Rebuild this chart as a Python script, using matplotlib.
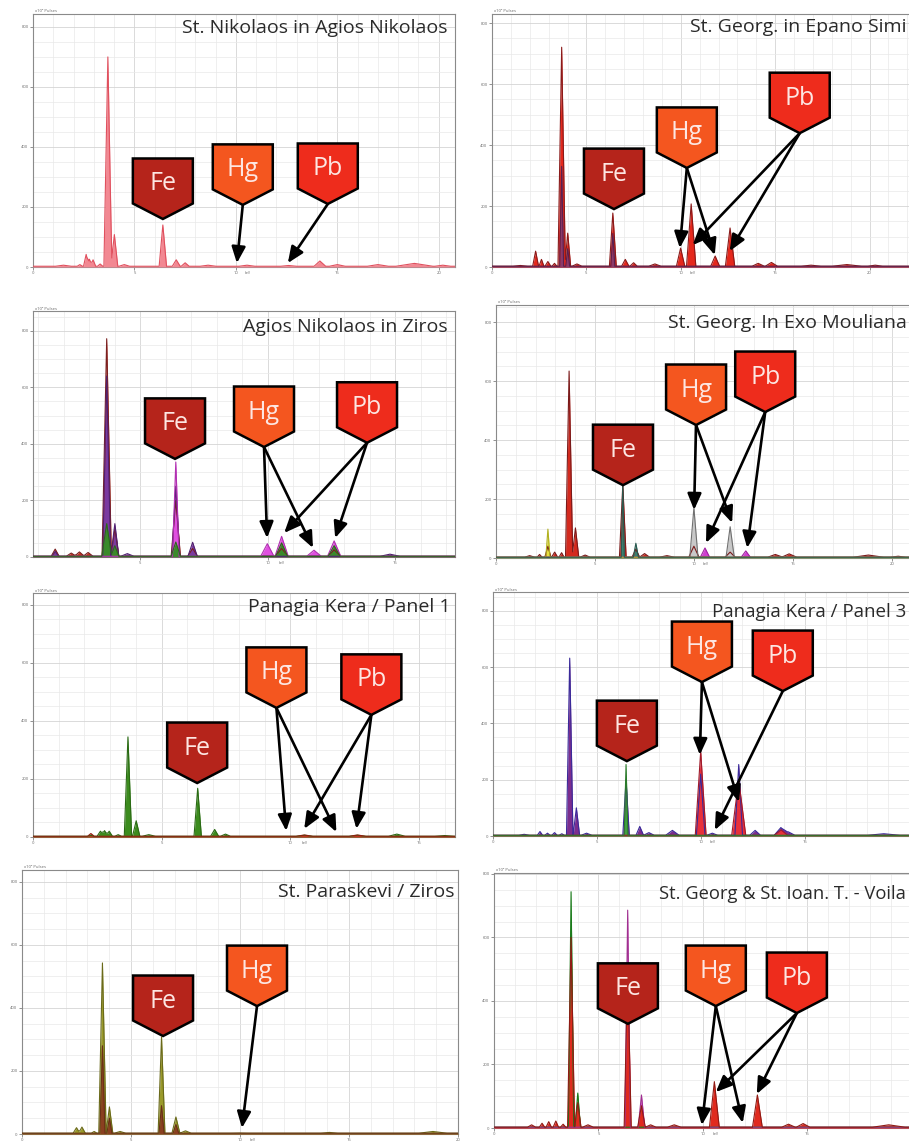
import numpy as np
import matplotlib
matplotlib.use("Agg")
import matplotlib.pyplot as plt
from matplotlib import transforms
from matplotlib.patches import Polygon
from matplotlib.ticker import MultipleLocator

plt.rcParams['font.family'] = ['Open Sans', 'DejaVu Sans']

# ----------------------------- data -----------------------------
titles = ["St. Nikolaos in Agios Nikolaos", "St. Georg. in Epano Simi",
          "Agios Nikolaos in Ziros", "St. Georg. In Exo Mouliana",
          "Panagia Kera / Panel 1", "Panagia Kera / Panel 3",
          "St. Paraskevi / Ziros", "St. Georg & St. Ioan. T. - Voila"]
xlims = [(0, 20.8), (0, 22.3), (0.8, 17.35), (0, 21.0), (0, 16.4), (0, 20.3), (0, 20.0), (0, 20.3)]
ylims = [843, 830, 870, 858, 841, 867, 838, 803]
x_ticks = [0, 5, 10, 15, 20]
y_ticks = [0, 200, 400, 600, 800]

# spectra: peak energy (keV), peak height (pulses), peak half-width (keV)
p1_pink_kev = [1.5, 2.31, 2.62, 2.78, 2.96, 3.31, 3.69, 4.01, 4.5, 6.40, 7.06, 7.5, 8.63, 10.55, 12.6, 14.14, 15.0, 17.0, 18.8, 20.2]
p1_pink_cts = [6, 8, 42, 26, 24, 10, 700, 108, 8, 140, 24, 14, 6, 6, 5, 20, 8, 8, 12, 6]
p1_pink_hw = [0.3, 0.1, 0.1, 0.1, 0.1, 0.1, 0.15, 0.13, 0.2, 0.14, 0.15, 0.15, 0.3, 0.3, 0.3, 0.22, 0.3, 0.4, 0.7, 0.3]

p2_red_kev = [1.5, 2.31, 2.62, 2.96, 3.31, 3.69, 4.01, 4.5, 6.40, 7.06, 7.5, 8.63, 9.99, 10.55, 11.82, 12.61, 14.1, 14.8, 16.9, 18.8, 20.3]
p2_red_cts = [5, 52, 25, 18, 12, 721, 111, 10, 177, 25, 14, 10, 62, 207, 36, 128, 12, 15, 6, 8, 6]
p2_red_hw = [0.3, 0.12, 0.1, 0.12, 0.1, 0.15, 0.12, 0.2, 0.14, 0.15, 0.15, 0.25, 0.17, 0.19, 0.18, 0.19, 0.25, 0.25, 0.4, 0.6, 0.3]
p2_pur_kev = [3.69, 4.01, 6.40]
p2_pur_cts = [330, 60, 110]
p2_pur_hw = [0.08, 0.08, 0.08]

p3_red_kev = [1.67, 2.3, 2.62, 2.96, 3.69, 4.01, 6.40, 7.06, 10.55, 12.61]
p3_red_cts = [28, 14, 18, 16, 772, 100, 200, 30, 30, 25]
p3_red_hw = [0.12, 0.15, 0.15, 0.15, 0.14, 0.12, 0.14, 0.15, 0.2, 0.2]
p3_pur_kev = [1.67, 3.69, 4.01, 4.5, 6.40, 7.06, 14.8]
p3_pur_cts = [20, 640, 118, 12, 250, 52, 10]
p3_pur_hw = [0.1, 0.12, 0.12, 0.2, 0.12, 0.14, 0.3]
p3_mag_kev = [6.40, 9.99, 10.55, 11.82, 12.61]
p3_mag_cts = [336, 47, 73, 24, 57]
p3_mag_hw = [0.1, 0.2, 0.2, 0.22, 0.2]
p3_grn_kev = [3.69, 4.01, 6.40, 10.55, 12.61]
p3_grn_cts = [118, 40, 53, 50, 40]
p3_grn_hw = [0.15, 0.12, 0.14, 0.18, 0.18]

p4_red_kev = [1.7, 2.2, 2.62, 2.96, 3.31, 3.69, 4.01, 4.5, 6.40, 7.06, 7.5, 8.63, 9.99, 11.82, 14.1, 14.8, 18.8, 20.3]
p4_red_cts = [8, 12, 40, 20, 18, 634, 102, 10, 248, 30, 15, 8, 40, 20, 12, 14, 10, 6]
p4_red_hw = [0.2, 0.1, 0.12, 0.12, 0.1, 0.14, 0.13, 0.2, 0.13, 0.15, 0.2, 0.3, 0.2, 0.2, 0.3, 0.3, 0.6, 0.3]
p4_gry_kev = [9.99, 11.82]
p4_gry_cts = [170, 106]
p4_gry_hw = [0.16, 0.16]
p4_mag_kev = [10.55, 12.61]
p4_mag_cts = [34, 24]
p4_mag_hw = [0.18, 0.18]
p4_yel_kev = [2.62]
p4_yel_cts = [98]
p4_yel_hw = [0.08]
p4_teal_kev = [6.40, 7.06]
p4_teal_cts = [250, 50]
p4_teal_hw = [0.06, 0.1]

p5_grn_kev = [2.25, 2.62, 2.78, 2.96, 3.31, 3.69, 4.01, 4.5, 6.40, 7.06, 7.48, 10.55, 12.61, 14.14, 16.0]
p5_grn_cts = [6, 20, 22, 20, 8, 345, 56, 8, 168, 26, 10, 6, 6, 10, 5]
p5_grn_hw = [0.1, 0.1, 0.1, 0.1, 0.1, 0.11, 0.11, 0.2, 0.11, 0.12, 0.15, 0.25, 0.25, 0.25, 0.3]
p5_red_kev = [2.25, 10.55, 12.61]
p5_red_cts = [12, 7, 7]
p5_red_hw = [0.1, 0.25, 0.25]

p6_pur_kev = [1.5, 2.26, 2.62, 2.96, 3.31, 3.69, 4.01, 4.5, 6.40, 7.06, 7.5, 8.63, 9.99, 10.55, 11.82, 12.61, 13.85, 14.2, 18.8]
p6_pur_cts = [6, 16, 10, 12, 8, 632, 100, 10, 200, 34, 12, 20, 220, 10, 254, 20, 30, 15, 8]
p6_pur_hw = [0.2, 0.1, 0.1, 0.1, 0.1, 0.12, 0.12, 0.2, 0.12, 0.14, 0.2, 0.25, 0.16, 0.2, 0.14, 0.2, 0.25, 0.25, 0.6]
p6_red_kev = [9.99, 11.82, 13.85]
p6_red_cts = [300, 200, 22]
p6_red_hw = [0.2, 0.26, 0.25]
p6_grn_kev = [6.40]
p6_grn_cts = [254]
p6_grn_hw = [0.07]

p7_olv_kev = [2.5, 2.75, 3.31, 3.69, 4.01, 4.5, 6.40, 7.06, 7.5, 9.99, 14.1, 18.85]
p7_olv_cts = [20, 22, 8, 543, 86, 8, 308, 54, 10, 3, 5, 8]
p7_olv_hw = [0.12, 0.12, 0.1, 0.13, 0.12, 0.2, 0.12, 0.14, 0.2, 0.3, 0.3, 0.5]
p7_brn_kev = [3.69, 4.01, 6.40, 7.06]
p7_brn_cts = [280, 50, 90, 30]
p7_brn_hw = [0.09, 0.09, 0.09, 0.1]

p8_grn_kev = [3.69, 4.01]
p8_grn_cts = [744, 110]
p8_grn_hw = [0.1, 0.1]
p8_mag_kev = [6.40, 7.06]
p8_mag_cts = [686, 104]
p8_mag_hw = [0.1, 0.12]
p8_red_kev = [1.8, 2.3, 2.62, 2.96, 3.31, 3.69, 4.01, 4.5, 6.40, 7.06, 7.5, 8.63, 10.55, 12.61, 14.1, 14.8, 18.9, 20.3]
p8_red_cts = [10, 15, 20, 22, 12, 600, 80, 10, 500, 70, 10, 10, 146, 104, 12, 14, 10, 6]
p8_red_hw = [0.15, 0.1, 0.1, 0.1, 0.1, 0.13, 0.12, 0.2, 0.13, 0.14, 0.2, 0.25, 0.18, 0.18, 0.25, 0.25, 0.6, 0.3]

# series per panel: (kev, counts, half-width, fill colour, edge colour)
panel_series = [
    [(p1_pink_kev, p1_pink_cts, p1_pink_hw, '#f28892', '#e0505e')],
    [(p2_red_kev, p2_red_cts, p2_red_hw, '#e5281c', '#8a1a1a'),
     (p2_pur_kev, p2_pur_cts, p2_pur_hw, '#8a3a6a', '#5a2050')],
    [(p3_red_kev, p3_red_cts, p3_red_hw, '#c8321e', '#7a2020'),
     (p3_pur_kev, p3_pur_cts, p3_pur_hw, '#7a3aa0', '#502070'),
     (p3_mag_kev, p3_mag_cts, p3_mag_hw, '#e050e0', '#b030b0'),
     (p3_grn_kev, p3_grn_cts, p3_grn_hw, '#3a8a2a', '#2a6a1a')],
    [(p4_red_kev, p4_red_cts, p4_red_hw, '#d42a1e', '#7a1a1a'),
     (p4_gry_kev, p4_gry_cts, p4_gry_hw, '#c8c8c8', '#707070'),
     (p4_mag_kev, p4_mag_cts, p4_mag_hw, '#d040d0', '#a020a0'),
     (p4_yel_kev, p4_yel_cts, p4_yel_hw, '#e6e040', '#b0b020'),
     (p4_teal_kev, p4_teal_cts, p4_teal_hw, '#3a8070', '#2a5a50')],
    [(p5_grn_kev, p5_grn_cts, p5_grn_hw, '#3c8c1e', '#2a6a14'),
     (p5_red_kev, p5_red_cts, p5_red_hw, '#c83020', '#902010')],
    [(p6_pur_kev, p6_pur_cts, p6_pur_hw, '#7b2d8e', '#3a2a9a'),
     (p6_red_kev, p6_red_cts, p6_red_hw, '#e8303a', '#a01a2a'),
     (p6_grn_kev, p6_grn_cts, p6_grn_hw, '#40a040', '#2a7a2a')],
    [(p7_olv_kev, p7_olv_cts, p7_olv_hw, '#9a9a2a', '#6a6a1a'),
     (p7_brn_kev, p7_brn_cts, p7_brn_hw, '#8a4020', '#6a3018')],
    [(p8_grn_kev, p8_grn_cts, p8_grn_hw, '#2a9a2a', '#1a7a1a'),
     (p8_mag_kev, p8_mag_cts, p8_mag_hw, '#d050c0', '#a03090'),
     (p8_red_kev, p8_red_cts, p8_red_hw, '#e02a1e', '#901a14')],
]

# callout badges: element, tip energy (keV), tip height (pulses)
badge_el = [['Fe', 'Hg', 'Pb'], ['Fe', 'Hg', 'Pb'], ['Fe', 'Hg', 'Pb'], ['Fe', 'Hg', 'Pb'],
            ['Fe', 'Hg', 'Pb'], ['Fe', 'Hg', 'Pb'], ['Fe', 'Hg'], ['Fe', 'Hg', 'Pb']]
badge_kev = [[6.40, 10.34, 14.53], [6.46, 10.32, 16.30], [6.37, 9.86, 13.90], [6.41, 10.10, 13.59],
             [6.38, 9.46, 13.15], [6.44, 10.05, 13.94], [6.47, 10.78], [6.41, 10.62, 14.50]]
badge_cts = [[160, 207, 210], [190, 325, 439], [347, 389, 404], [247, 451, 495],
             [186, 445, 421], [266, 547, 515], [311, 406], [328, 384, 362]]
# arrows: element, target energy (keV), target height (pulses)
arrow_el = [['Hg', 'Pb'], ['Hg', 'Hg', 'Pb', 'Pb'], ['Hg', 'Hg', 'Pb', 'Pb'], ['Hg', 'Hg', 'Pb', 'Pb'],
            ['Hg', 'Hg', 'Pb', 'Pb'], ['Hg', 'Hg', 'Pb'], ['Hg'], ['Hg', 'Hg', 'Pb', 'Pb']]
arrow_kev = [[10.05, 12.56], [9.95, 11.80, 10.63, 12.59], [9.98, 11.78, 10.65, 12.65],
             [10.0, 11.92, 10.60, 12.68], [9.84, 11.79, 10.54, 12.57], [9.95, 11.83, 10.67],
             [10.09], [9.95, 11.91, 10.62, 12.58]]
arrow_cts = [[13, 13], [62, 39, 72, 52], [67, 32, 85, 67], [163, 119, 51, 34],
             [21, 17, 28, 28], [288, 121, 21], [19], [9, 16, 113, 107]]

badge_colors = {'Fe': '#b5241b', 'Hg': '#f4561f', 'Pb': '#ee2c1c'}

# ----------------------------- layout -----------------------------
W, H = 909, 1142
axes_px = [(33, 14, 455, 267), (492, 14, 913, 267), (33, 311, 455, 557), (496, 305, 912, 558),
           (33, 593, 455, 837), (493, 592, 915, 836), (22, 870, 458, 1134), (494, 873, 918, 1128)]
title_px = [(448, 33, 14), (907, 32, 14), (448, 332, 14), (907, 328, 14),
            (451, 612, 14), (906, 617, 13.5), (455, 897, 14), (906, 899, 13.2)]
PEAK_WIDEN = 1.3  # drawing style: widen peak bases slightly

fig = plt.figure(figsize=(W / 100, H / 100), dpi=100)
fig.patch.set_facecolor('white')


def spectrum(kev, cts, hw, x0, x1, base=2.5):
    hw = [w * PEAK_WIDEN for w in hw]
    xs = [x0, x1]
    for e, w in zip(kev, hw):
        xs += [e - w, e, e + w]
    xs = np.unique(np.clip(np.array(xs, dtype=float), x0, x1))
    ys = np.full_like(xs, base)
    for e, c, w in zip(kev, cts, hw):
        ys = np.maximum(ys, np.interp(xs, [e - w, e, e + w], [base, c, base], left=base, right=base))
    return xs, ys


def draw_badge(ax, x, y, label):
    w, hr, ht = 0.60, 0.45, 0.155
    verts = [(-w / 2, ht), (-w / 2, ht + hr), (w / 2, ht + hr), (w / 2, ht), (0, 0)]
    tr = fig.dpi_scale_trans + transforms.ScaledTranslation(x, y, ax.transData)
    ax.add_patch(Polygon(verts, closed=True, transform=tr, facecolor=badge_colors[label],
                         edgecolor='black', lw=1.8, joinstyle='miter', zorder=10, clip_on=False))
    ax.text(0, ht + 0.13, label, transform=tr, ha='center', va='baseline',
            color='#fde6e2', fontsize=18, zorder=11, clip_on=False)


for i in range(8):
    l, t, r, b = axes_px[i]
    ax = fig.add_axes([l / W, 1 - b / H, (r - l) / W, (b - t) / H])
    x0, x1 = xlims[i]
    ax.set_xlim(x0, x1)
    ax.set_ylim(0, ylims[i])
    px_per_kev = (r - l) / (x1 - x0)
    ax.set_xticks([v for v in x_ticks if x0 <= v <= x1 and l + (v - x0) * px_per_kev < W - 6])
    ax.set_yticks([v for v in y_ticks if v <= ylims[i]])
    ax.xaxis.set_minor_locator(MultipleLocator(1))
    ax.yaxis.set_minor_locator(MultipleLocator(50))
    ax.grid(which='major', color='#d4d4d4', lw=0.6)
    ax.grid(which='minor', color='#e9e9e9', lw=0.5)
    ax.set_axisbelow(True)
    ax.tick_params(which='major', labelsize=3, length=2, width=0.5, colors='#666', pad=1.2)
    ax.tick_params(which='minor', length=0)
    for s in ax.spines.values():
        s.set_color('#8a8a8a')
        s.set_linewidth(0.8)
    # small "keV" unit label just right of the 10 keV tick label
    ax.annotate('keV', xy=(10.45, 0), xycoords=('data', 'axes fraction'), xytext=(0, -3.2),
                textcoords='offset points', fontsize=2.6, color='#666', ha='left', va='top')
    ax.text(0.005, 1.002, 'x10³ Pulses', transform=ax.transAxes, fontsize=3, color='#666',
            ha='left', va='bottom')

    for kev, cts, hw, fc, ec in panel_series[i]:
        xs, ys = spectrum(kev, cts, hw, x0, x1)
        ax.fill_between(xs, 0, ys, color=fc, lw=0, zorder=3)
        ax.plot(xs, ys, color=ec, lw=0.8, zorder=4)

    tips = {}
    for el, bx, by in zip(badge_el[i], badge_kev[i], badge_cts[i]):
        tips[el] = (bx, by)
    for el, ex, ey in zip(arrow_el[i], arrow_kev[i], arrow_cts[i]):
        ax.annotate('', xy=(ex, ey), xytext=tips[el], zorder=9,
                    arrowprops=dict(arrowstyle='-|>,head_length=0.75,head_width=0.32',
                                    color='black', lw=1.9, shrinkA=0, shrinkB=0,
                                    mutation_scale=13))
    for el in badge_el[i]:
        draw_badge(ax, tips[el][0], tips[el][1], el)

    tx, ty, fs = title_px[i]
    fig.text(tx / W, 1 - ty / H, titles[i], ha='right', va='baseline', fontsize=fs, color='#2a2a2a')

fig.savefig('out.png', dpi=100, facecolor='white')
